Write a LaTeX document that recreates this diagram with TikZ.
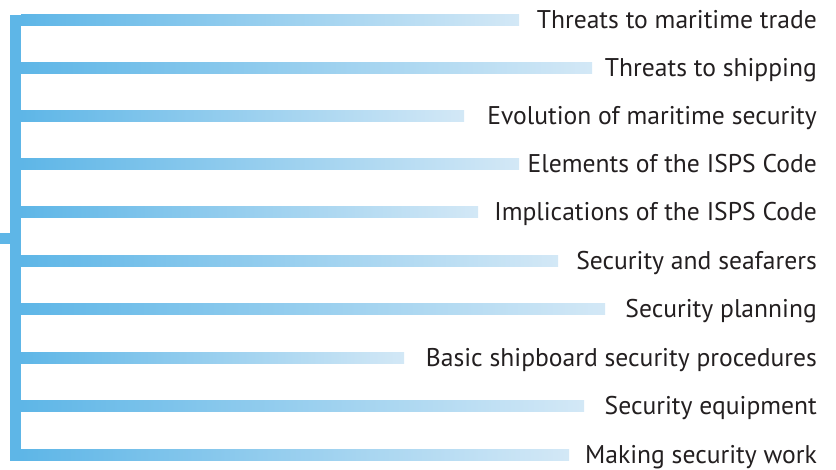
\documentclass[tikz,border=0pt]{standalone}
\usepackage{fontspec}
\setmainfont{PT Sans}
\definecolor{barblue}{HTML}{5EB6E7}
\definecolor{barlight}{HTML}{D3E8F6}
\definecolor{txt}{HTML}{231F20}
\begin{document}
\begin{tikzpicture}[x=1pt,y=-1pt,
  bar/.style={left color=barblue,right color=barlight,draw=none},
  lbl/.style={anchor=base east,inner sep=0pt,text=txt,font=\fontsize{25.6}{30}\selectfont}]
\useasboundingbox (0,0) rectangle (836,470);
\fill[barblue] (10,15) rectangle (21,461);
\fill[barblue] (0,233) rectangle (10,244);
\foreach \y/\e/\t [count=\i] in {
  20/519/Threats to maritime trade,
  68/592/Threats to shipping,
  116/464/Evolution of maritime security,
  164/519/Elements of the ISPS Code,
  212/478/Implications of the ISPS Code,
  261/558/Security and seafarers,
  309/605/Security planning,
  358/404/Basic shipboard security procedures,
  406/584/Security equipment,
  455/569/Making security work}{
  \shade[bar] (21,\y-5.5) rectangle (\e,\y+5.5);
  \coordinate (b\i) at (\e,\y);
  \node[lbl] (t\i) at (817,\y+9) {\t};
}
\end{tikzpicture}
\end{document}
